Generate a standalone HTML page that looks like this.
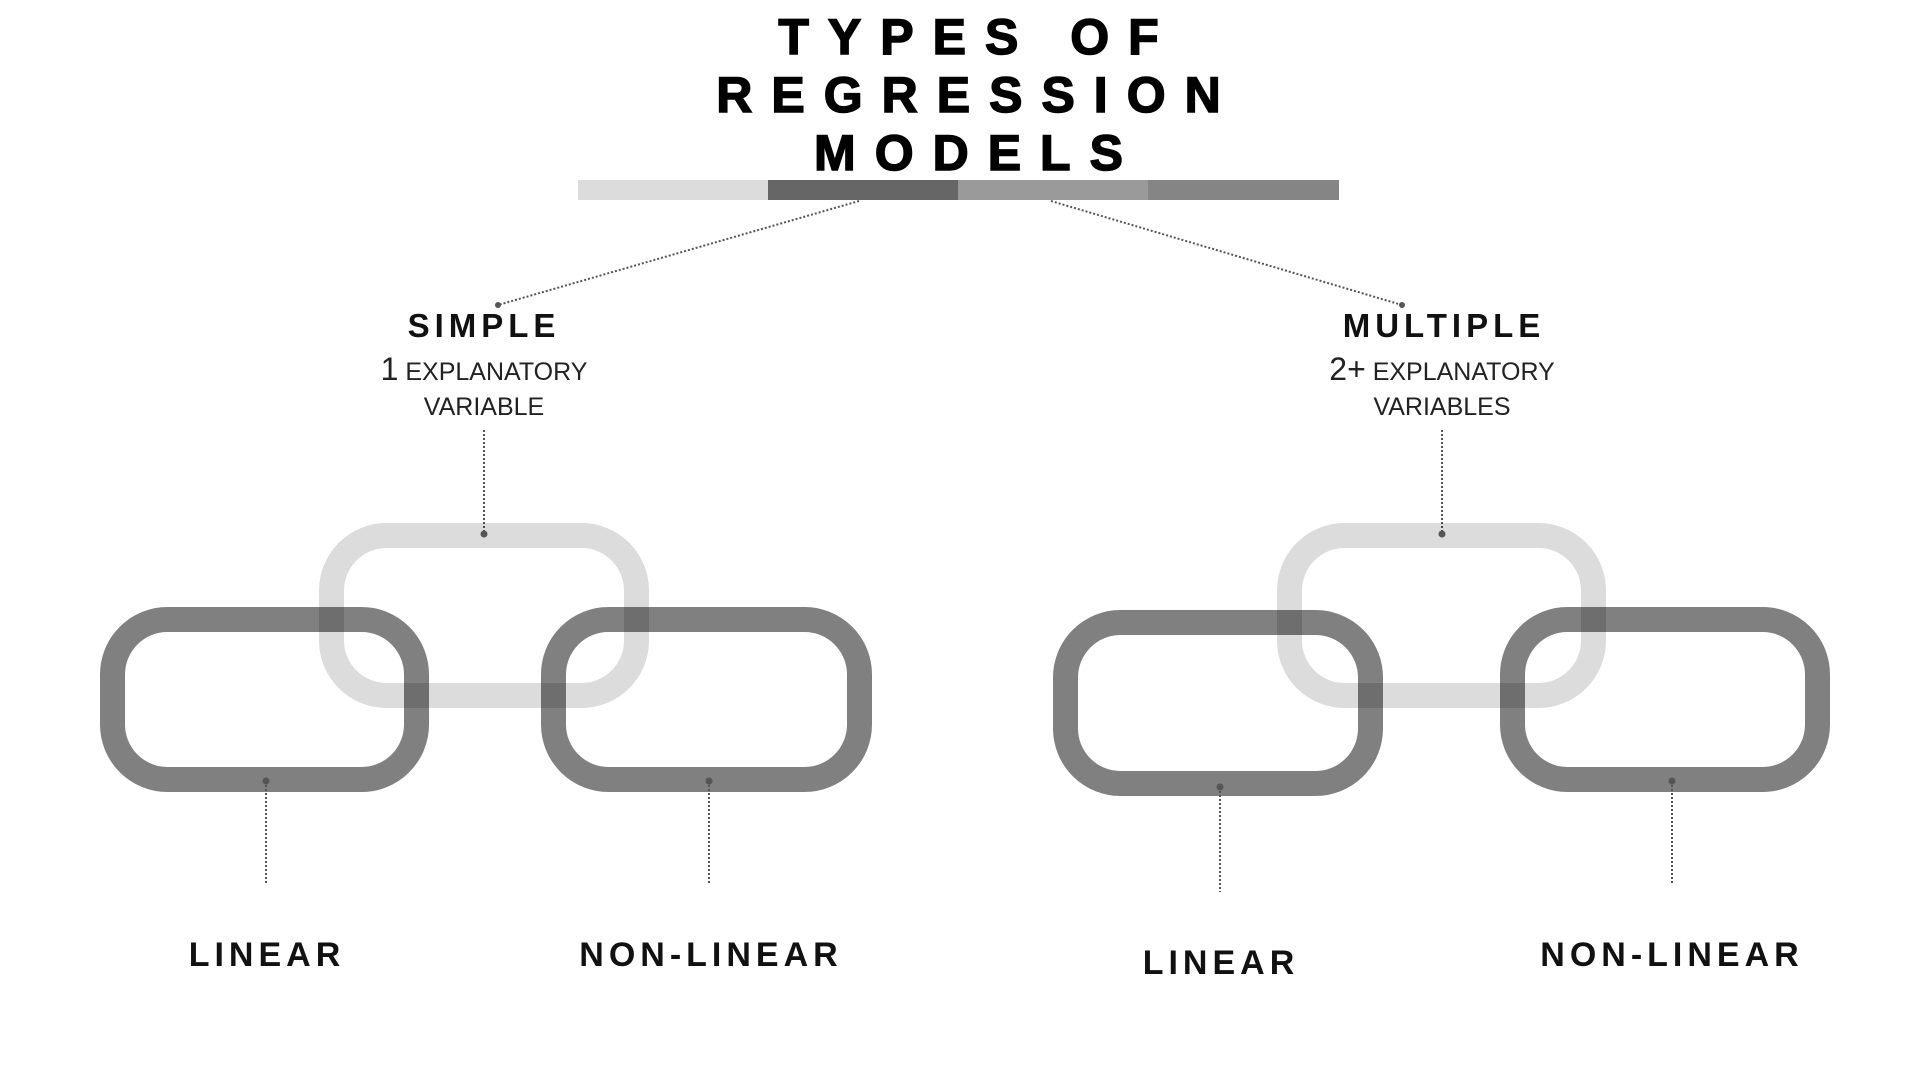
<!DOCTYPE html>
<html><head><meta charset="utf-8"><style>
html,body{margin:0;padding:0;background:#fff;}
svg{display:block;}
text{font-family:"Liberation Sans",Arial,sans-serif;}
.t{font-weight:900;font-size:50px;letter-spacing:19px;fill:#000;text-anchor:middle;stroke:#000;stroke-width:1.5px;}
.h{font-weight:bold;font-size:33px;letter-spacing:5px;fill:#111;text-anchor:middle;}
.s{font-size:25px;fill:#222;text-anchor:middle;}
.l{font-weight:bold;font-size:34px;letter-spacing:5px;fill:#111;text-anchor:middle;}
.d{stroke:#555;stroke-width:2;stroke-dasharray:2 2;fill:none;}
</style></head><body>
<svg width="1920" height="1080" viewBox="0 0 1920 1080" xmlns="http://www.w3.org/2000/svg">
<text class="t" x="978" y="54">TYPES OF</text>
<text class="t" x="978" y="112">REGRESSION</text>
<text class="t" x="978" y="170">MODELS</text>
<rect x="578" y="180" width="190" height="20" fill="#dcdcdc"/>
<rect x="768" y="180" width="190" height="20" fill="#666"/>
<rect x="958" y="180" width="190" height="20" fill="#9a9a9a"/>
<rect x="1148" y="180" width="191" height="20" fill="#858585"/>
<line class="d" x1="859" y1="201" x2="498" y2="305"/>
<line class="d" x1="1051" y1="201" x2="1402" y2="305"/>
<circle cx="498" cy="305" r="3" fill="#555"/><circle cx="1402" cy="305" r="3" fill="#555"/>
<text class="h" x="484" y="337">SIMPLE</text>
<text class="s" x="484" y="380"><tspan font-size="32">1</tspan> EXPLANATORY</text>
<text class="s" x="484" y="415">VARIABLE</text>
<text class="h" x="1444" y="337">MULTIPLE</text>
<text class="s" x="1442" y="380"><tspan font-size="32">2+</tspan> EXPLANATORY</text>
<text class="s" x="1442" y="415">VARIABLES</text>
<line class="d" x1="484" y1="430" x2="484" y2="534"/>
<line class="d" x1="1442" y1="430" x2="1442" y2="534"/>
<g fill="none" stroke="#808080" stroke-width="25">
<rect x="112.5" y="619.5" width="304" height="160" rx="55"/>
<rect x="553.5" y="619.5" width="306" height="160" rx="55"/>
<rect x="1065.5" y="622.5" width="305" height="161" rx="55"/>
<rect x="1512.5" y="619.5" width="305" height="160" rx="55"/>
</g>
<g fill="none" stroke="#dcdcdc" stroke-width="25" style="mix-blend-mode:multiply">
<rect x="331.5" y="535.5" width="305" height="160" rx="55"/>
<rect x="1289.5" y="535.5" width="304" height="160" rx="55"/>
</g>
<circle cx="484" cy="534" r="3.5" fill="#555"/><circle cx="1442" cy="534" r="3.5" fill="#555"/>
<line class="d" x1="266" y1="781" x2="266" y2="885"/>
<line class="d" x1="709" y1="781" x2="709" y2="885"/>
<line class="d" x1="1220" y1="787" x2="1220" y2="892"/>
<line class="d" x1="1672" y1="781" x2="1672" y2="885"/>
<circle cx="266" cy="781" r="3.5" fill="#555"/><circle cx="709" cy="781" r="3.5" fill="#555"/>
<circle cx="1220" cy="787" r="3.5" fill="#555"/><circle cx="1672" cy="781" r="3.5" fill="#555"/>
<text class="l" x="267" y="966">LINEAR</text>
<text class="l" x="711" y="966">NON-LINEAR</text>
<text class="l" x="1221" y="974">LINEAR</text>
<text class="l" x="1672" y="966">NON-LINEAR</text>
</svg>
</body></html>
